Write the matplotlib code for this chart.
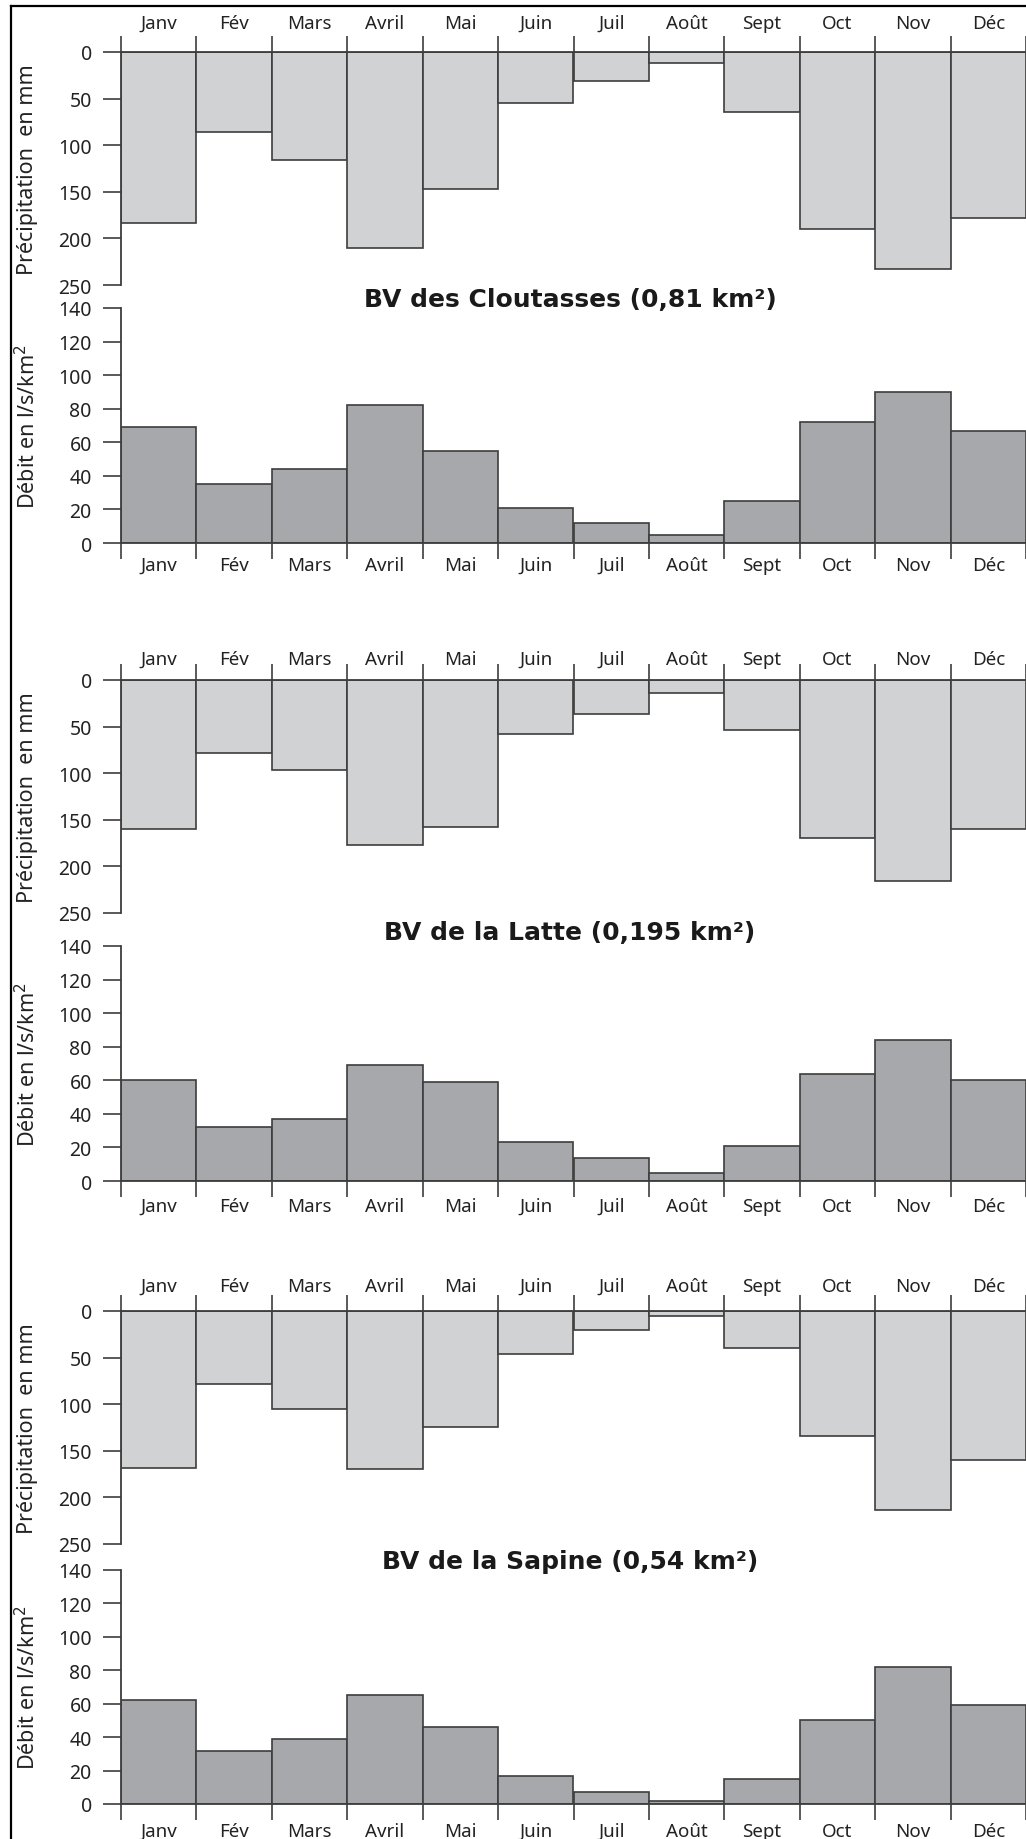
import matplotlib

matplotlib.use("Agg")
import matplotlib.pyplot as plt
from matplotlib.lines import Line2D

plt.rcParams["font.family"] = ["Noto Sans", "DejaVu Sans"]

months = ["Janv", "Fév", "Mars", "Avril", "Mai", "Juin", "Juil", "Août", "Sept", "Oct", "Nov", "Déc"]

titles = [
    "BV des Cloutasses (0,81 km²)",
    "BV de la Latte (0,195 km²)",
    "BV de la Sapine (0,54 km²)",
]

precip_cloutasses = [184, 86, 116, 210, 147, 55, 31, 12, 64, 190, 233, 178]
debit_cloutasses = [69, 35, 44, 82, 55, 21, 12, 5, 25, 72, 90, 67]

precip_latte = [160, 78, 97, 177, 158, 58, 37, 14, 54, 169, 216, 160]
debit_latte = [60, 32, 37, 69, 59, 23, 14, 5, 21, 64, 84, 60]

precip_sapine = [168, 78, 105, 169, 124, 46, 20, 5, 40, 134, 214, 160]
debit_sapine = [62, 32, 39, 65, 46, 17, 7, 1.5, 15, 50, 82, 59]

precip_ticks = [0, 50, 100, 150, 200, 250]
debit_ticks = [0, 20, 40, 60, 80, 100, 120, 140]

# pixel layout (figure is 1026 x 1840)
W, H = 1026, 1840
X0 = 121
MONTH_W = 75.6
TICK_LEN = 11.5
# precip zero, precip 250, debit 140, debit 0, title y, top label gap, bottom label gap
PANELS = [
    (53, 286, 309, 544, 300, 3.0, -2.0),
    (681, 914, 947, 1182, 933, -3.0, 0.0),
    (1312, 1545, 1571, 1805, 1562, 0.0, 1.5),
]

EDGE = "#3d3d3d"
LIGHT = "#d1d2d4"
DARK = "#a7a8ab"


def fig_rect(x_left, y_top, y_bottom):
    return [x_left / W, 1 - y_bottom / H, (W - x_left) / W, (y_bottom - y_top) / H]


def style_month_axis(ax, where, gap):
    ax.set_xlim(0, (W - X0) / MONTH_W)
    ax.set_xticks(range(13))
    ax.set_xticklabels([])
    ax.set_xticks([i + 0.5 for i in range(12)], minor=True)
    ax.set_xticklabels(months, minor=True, fontsize=13.5, color="#222222")
    top = where == "top"
    ax.tick_params(axis="x", which="major", direction="out", length=TICK_LEN, width=1.2,
                   color=EDGE, top=top, bottom=not top, labeltop=False, labelbottom=False)
    # minor ticks have no length, so the pad counts from the spine
    ax.tick_params(axis="x", which="minor", length=0, pad=TICK_LEN + gap, top=top,
                   bottom=not top, labeltop=top, labelbottom=not top)


def style_y(ax, ticks):
    ax.set_yticks(ticks)
    ax.tick_params(axis="y", direction="out", length=13, width=1.2, color=EDGE,
                   pad=8, labelsize=14, labelcolor="#222222")


fig = plt.figure(figsize=(W / 100, H / 100), dpi=100)

series = [
    (precip_cloutasses, debit_cloutasses),
    (precip_latte, debit_latte),
    (precip_sapine, debit_sapine),
]

for (precip, debit), title, (p0, p250, d140, d0, ty, top_gap, bot_gap) in zip(series, titles, PANELS):
    xs = range(len(months))

    ax_p = fig.add_axes(fig_rect(X0, p0, p250))
    ax_p.bar(xs, precip, width=1.0, align="edge", color=LIGHT, edgecolor=EDGE, linewidth=1.2)
    ax_p.set_ylim(250, 0)
    style_y(ax_p, precip_ticks)
    style_month_axis(ax_p, "top", top_gap)
    for side in ["right", "bottom"]:
        ax_p.spines[side].set_visible(False)
    for side in ["left", "top"]:
        ax_p.spines[side].set_color(EDGE)
        ax_p.spines[side].set_linewidth(1.3)

    ax_d = fig.add_axes(fig_rect(X0, d140, d0))
    ax_d.bar(xs, debit, width=1.0, align="edge", color=DARK, edgecolor=EDGE, linewidth=1.2)
    ax_d.set_ylim(0, 140)
    style_y(ax_d, debit_ticks)
    style_month_axis(ax_d, "bottom", bot_gap)
    for side in ["right", "top"]:
        ax_d.spines[side].set_visible(False)
    for side in ["left", "bottom"]:
        ax_d.spines[side].set_color(EDGE)
        ax_d.spines[side].set_linewidth(1.3)

    fig.text(28 / W, 1 - (p0 + p250) / 2 / H, "Précipitation  en mm", rotation=90,
             ha="center", va="center", fontsize=15.5, color="#222222")
    fig.text(28 / W, 1 - (d140 + d0) / 2 / H, "Débit en l/s/km$^2$", rotation=90,
             ha="center", va="center", fontsize=15.5, color="#222222")
    fig.text(570 / W, 1 - ty / H, title, ha="center", va="center",
             fontsize=18, fontweight="bold", family="DejaVu Sans", color="#1a1a1a")

# outer frame (left and top edges)
fig.add_artist(Line2D([11 / W, 11 / W], [0, 1 - 7 / H], transform=fig.transFigure,
                      color="black", linewidth=1.6))
fig.add_artist(Line2D([11 / W, 1], [1 - 7 / H, 1 - 7 / H], transform=fig.transFigure,
                      color="black", linewidth=1.6))

fig.savefig("out.png", dpi=100, facecolor="white")
